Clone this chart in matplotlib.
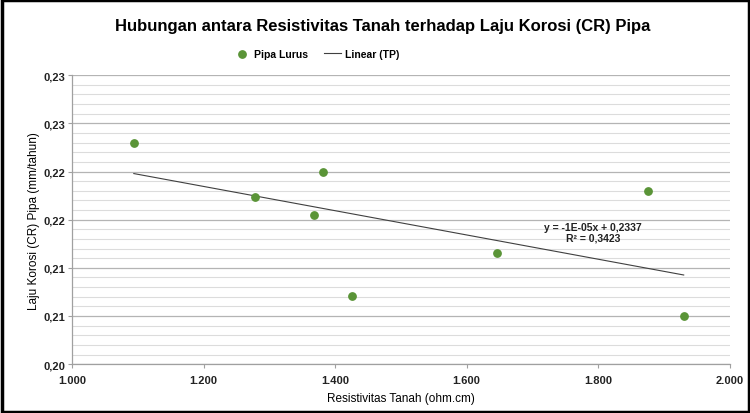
#!/usr/bin/env python3
"""
Scatter of soil resistivity vs pipe corrosion rate with a linear trendline.
"""

import matplotlib
matplotlib.use('Agg')
import matplotlib.pyplot as plt
import matplotlib.ticker as mticker
from matplotlib.patches import Rectangle
import numpy as np

plt.rcParams['font.family'] = ['Liberation Sans', 'DejaVu Sans']

# data
resistivity = [1094, 1278, 1381, 1368, 1426, 1646, 1875, 1930]
corrosion_rate = [0.2230, 0.2174, 0.2199, 0.2155, 0.2071, 0.2115, 0.2180, 0.2050]

y_ticks = [0.200, 0.205, 0.210, 0.215, 0.220, 0.225, 0.230]
y_tick_labels = ['0,20', '0,21', '0,21', '0,22', '0,22', '0,23', '0,23']
x_ticks = [1000, 1200, 1400, 1600, 1800, 2000]

title = 'Hubungan antara Resistivitas Tanah terhadap Laju Korosi (CR) Pipa'
eq_text = 'y = -1E-05x + 0,2337\nR² = 0,3423'

green = '#5a9437'


def main():
    fig = plt.figure(figsize=(7.5, 4.14), dpi=100)
    ax = fig.add_axes([0.096, 0.118, 0.877, 0.698])

    # gridlines: major every 0.005, minor every 0.001
    ax.set_ylim(0.200, 0.230)
    ax.set_xlim(1000, 2000)
    ax.set_yticks(y_ticks)
    ax.set_yticklabels(y_tick_labels)
    ax.yaxis.set_minor_locator(mticker.MultipleLocator(0.001))
    ax.set_xticks(x_ticks)
    ax.xaxis.set_major_formatter(
        mticker.FuncFormatter(lambda v, p: f'{v:,.0f}'.replace(',', '.')))
    ax.grid(axis='y', which='major', color='#b4b4b4', linewidth=0.9)
    ax.grid(axis='y', which='minor', color='#dcdcdc', linewidth=0.8)
    ax.set_axisbelow(True)

    for side in ('top', 'right'):
        ax.spines[side].set_visible(False)
    for side in ('left', 'bottom'):
        ax.spines[side].set_color('#a0a0a0')
        ax.spines[side].set_linewidth(0.9)
    ax.tick_params(axis='both', which='major', length=3, color='#a0a0a0',
                   labelsize=8, pad=2)
    ax.tick_params(axis='x', which='major', pad=5)
    ax.tick_params(axis='y', which='minor', length=0)
    for lbl in ax.get_xticklabels() + ax.get_yticklabels():
        lbl.set_fontweight('bold')
        lbl.set_color('#222222')

    ax.scatter(resistivity, corrosion_rate, s=28, color=green, zorder=3,
               label='Pipa Lurus')

    # linear trendline over the data range
    slope, intercept = np.polyfit(resistivity, corrosion_rate, 1)
    xs = np.array([min(resistivity), max(resistivity)])
    ax.plot(xs, slope * xs + intercept, color='#404040', linewidth=0.8,
            zorder=2, label='Linear (TP)')

    ax.text(1792, 0.2137, eq_text, ha='center', va='center', fontsize=7.5,
            fontweight='bold', color='#222222', linespacing=1.1)

    ax.set_xlabel('Resistivitas Tanah (ohm.cm)', fontsize=8.5, labelpad=5)
    ax.set_ylabel('Laju Korosi (CR) Pipa (mm/tahun)', fontsize=8.5, labelpad=2)

    fig.suptitle(title, x=0.51, y=0.955, fontsize=12, fontweight='bold')
    fig.legend(loc='center', bbox_to_anchor=(0.422, 0.867), ncol=2,
               frameon=False, handlelength=1.6, columnspacing=1.5,
               handletextpad=0.4, prop={'weight': 'bold', 'size': 7.5})

    fig.patches.append(Rectangle((0.002, 0.003), 0.996, 0.994,
                                 transform=fig.transFigure, fill=False,
                                 edgecolor='black', linewidth=2.5))

    fig.savefig('out.png', dpi=100)


if __name__ == '__main__':
    main()
